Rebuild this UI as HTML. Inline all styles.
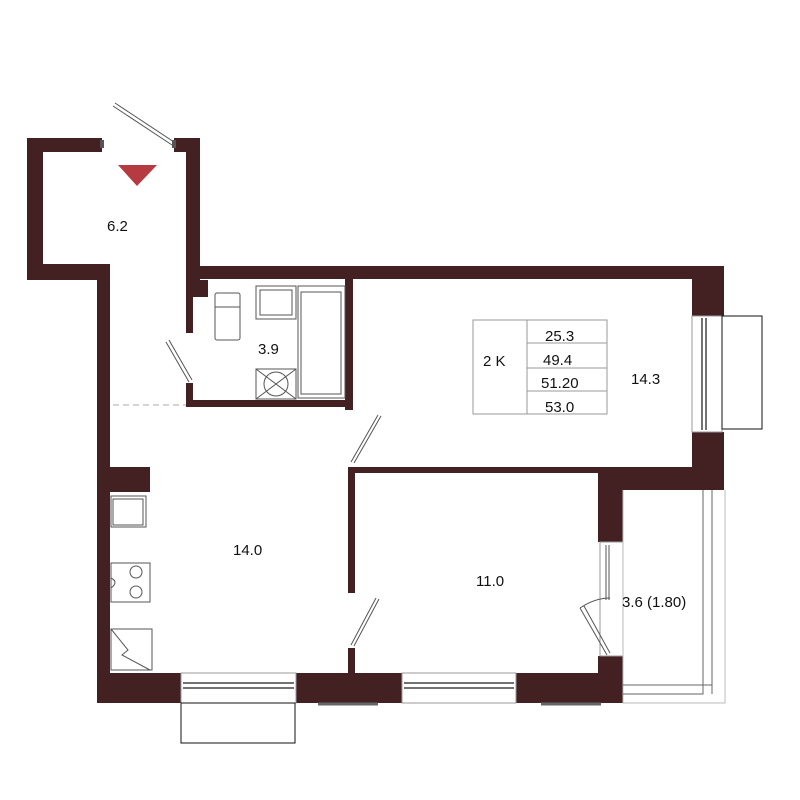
<!DOCTYPE html>
<html><head><meta charset="utf-8"><style>html,body{margin:0;padding:0;background:#fff}svg{display:block}text{font-family:"Liberation Sans",sans-serif;fill:#111}</style></head><body>
<svg width="800" height="800" viewBox="0 0 800 800" xmlns="http://www.w3.org/2000/svg">
<g fill="#432022">
<rect x="27" y="138" width="75" height="14"/>
<rect x="27" y="138" width="16" height="142"/>
<rect x="27" y="264" width="83" height="16"/>
<rect x="97" y="264" width="13" height="439"/>
<rect x="174" y="138" width="26" height="14"/>
<rect x="186" y="138" width="14" height="142"/>
<rect x="186" y="266" width="7" height="67"/>
<rect x="186" y="280" width="22" height="17"/>
<rect x="186" y="266" width="538" height="13"/>
<rect x="692" y="266" width="32" height="50"/>
<rect x="692" y="432" width="32" height="58"/>
<rect x="186" y="383" width="7" height="24"/>
<rect x="186" y="400" width="167" height="7"/>
<rect x="345" y="279" width="8" height="131"/>
<rect x="348" y="467" width="344" height="6"/>
<rect x="348" y="467" width="7" height="126"/>
<rect x="348" y="648" width="7" height="30"/>
<rect x="598" y="467" width="25" height="75"/>
<rect x="598" y="656" width="25" height="47"/>
<rect x="598" y="467" width="126" height="23"/>
<rect x="97" y="467" width="53" height="25"/>
<rect x="97" y="673" width="84" height="30"/>
<rect x="296" y="673" width="106" height="30"/>
<rect x="516" y="673" width="107" height="30"/>
</g>
<g fill="none" stroke="#555" stroke-width="1">
<path d="M113 106 L172 145 M115 103 L174 142"/>
<path d="M166 342 L189 382 M169 340 L192 380"/>
<path d="M351 462 L378 415 M354 463 L381 416"/>
<path d="M351 645 L376 598 M354 646 L379 599"/>
<path d="M113 405 H186" stroke-dasharray="6 4" stroke="#aaa"/>
<rect x="215" y="293" width="25" height="47" rx="2"/><path d="M215 307 H240"/>
<rect x="256" y="286" width="40" height="33"/><rect x="260" y="290" width="32" height="25"/>
<rect x="298" y="286" width="47" height="112"/><rect x="301" y="292" width="40" height="102"/>
<rect x="256" y="369" width="40" height="30"/><circle cx="276" cy="384" r="12"/><path d="M256 369 L296 399 M296 369 L256 399"/>
<rect x="111" y="496" width="35" height="31"/><rect x="113" y="499" width="30" height="26"/>
<rect x="111" y="563" width="39" height="39"/><circle cx="136" cy="572" r="6"/><circle cx="136" cy="592" r="6"/><path d="M111 578 q8 4 0 10"/>
<path d="M111 629 H152 V670 H111 Z M111 629 L128 650 L122 655 L150 670"/>
<rect x="181" y="673" width="115" height="30" stroke="#999"/><path d="M183 683 H294 M183 688 H294" stroke="#444" stroke-width="1.5"/>
<rect x="181" y="703" width="114" height="40" stroke="#111"/>
<rect x="402" y="673" width="114" height="30" stroke="#999"/><path d="M404 683 H514 M404 688 H514" stroke="#444" stroke-width="1.5"/>
<rect x="692" y="316" width="30" height="116" stroke="#999"/><path d="M702 318 V430 M706 318 V430" stroke="#444" stroke-width="1.5"/>
<rect x="722" y="316" width="40" height="113" stroke="#111"/>
<rect x="600" y="542" width="23" height="114" stroke="#999"/><path d="M606 545 V600 M609 545 V600"/>
<path d="M580 608 L607 655 M584 606 L610 653 M580 608 q15 -10 30 -10"/>
<path d="M623 490 V703 H725 V490" stroke="#bbb"/>
<path d="M703 490 V694 H623 M712 490 V694 M623 685 H712" stroke="#666"/>
<path d="M318 704 H378 M541 704 H601" stroke="#666" stroke-width="3"/>
<rect x="473" y="320" width="134" height="94" stroke="#999"/>
<path d="M527 320 V414 M527 343 H607 M527 368 H607 M527 391 H607" stroke="#999"/>
</g>
<g fill="#555">
<rect x="100" y="140" width="4" height="8"/><rect x="172" y="140" width="4" height="8"/>
</g>
<polygon points="118,165 157,165 137,186" fill="#b53a42"/>
<g font-size="15">
<text x="107" y="231">6.2</text>
<text x="258" y="354">3.9</text>
<text x="483" y="366">2 K</text>
<text x="545" y="341">25.3</text>
<text x="543" y="365">49.4</text>
<text x="541" y="388">51.20</text>
<text x="545" y="412">53.0</text>
<text x="631" y="384">14.3</text>
<text x="233" y="555">14.0</text>
<text x="476" y="586">11.0</text>
<text x="622" y="607">3.6 (1.80)</text>
</g>
</svg>
</body></html>
